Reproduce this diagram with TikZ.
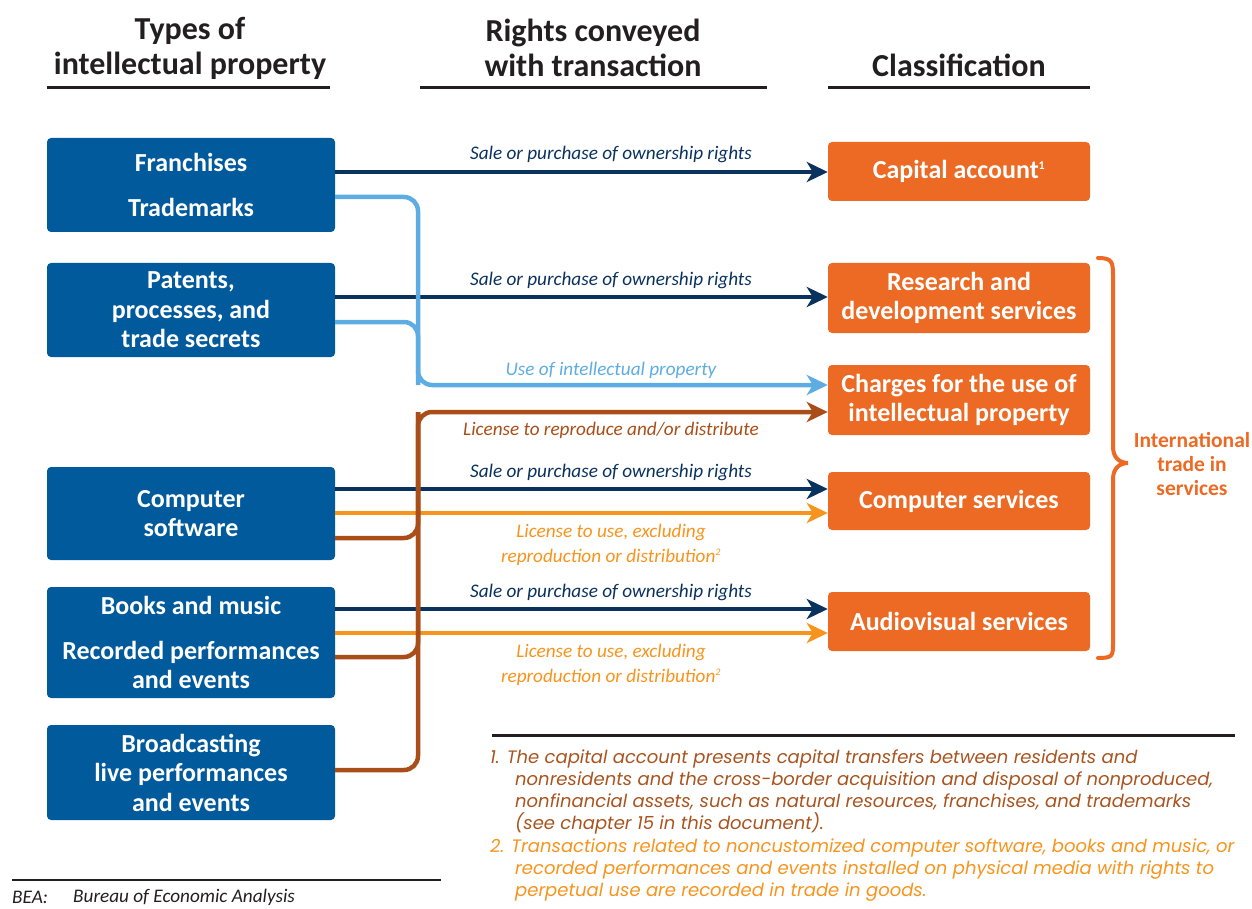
\documentclass[tikz,border=0pt]{standalone}
\usepackage{fontspec}
\setmainfont{Carlito}
\newfontfamily\fnfont{Poppins}
\usetikzlibrary{arrows.meta}
\definecolor{ipblue}{RGB}{0,90,156}
\definecolor{boxorange}{RGB}{236,106,35}
\definecolor{navyarrow}{RGB}{10,50,95}
\definecolor{lbluearrow}{RGB}{93,173,226}
\definecolor{brownarrow}{RGB}{169,78,24}
\definecolor{lorange}{RGB}{247,148,29}
\definecolor{hdrgray}{RGB}{35,31,32}
\definecolor{fnbrown}{RGB}{169,83,31}
\newcommand\myboxfont{\bfseries\fontsize{26}{29.5}\selectfont}
\newcommand\mylabfont{\itshape\fontsize{19.2}{25}\selectfont}
\newcommand\myhdrfont{\bfseries\fontsize{32}{35}\selectfont}
\newcommand\myfnfont{\fnfont\itshape\fontsize{18}{22}\selectfont}
\tikzset{
  bluebox/.style={fill=ipblue, rounded corners=4pt, text=white, font=\myboxfont, align=center, minimum width=288pt, inner sep=0pt},
  orangebox/.style={fill=boxorange, rounded corners=4pt, text=white, font=\myboxfont, align=center, minimum width=262pt, inner sep=0pt},
  hdr/.style={text=hdrgray, font=\myhdrfont, align=center, inner sep=0pt},
  hdrline/.style={draw=hdrgray, line width=3pt},
  conn/.style={line width=4.5pt},
  tipped/.style={-{Stealth[length=21pt,width=20pt,inset=6pt]}},
  lab/.style={font=\mylabfont, align=center, inner sep=0pt},
  fn/.style={font=\myfnfont, align=left, inner sep=0pt, anchor=north west}
}
\begin{document}
\begin{tikzpicture}[x=1pt,y=-1pt]
\useasboundingbox (0,0) rectangle (1252,909);

% headers
\node[hdr] (h1) at (190,48) {Types of\\intellectual property};
\node[hdr] (h2) at (593,48) {Rights conveyed\\with transaction};
\node[hdr] (h3) at (959,65) {Classification};
\draw[hdrline] (47,88) -- (330,88);
\draw[hdrline] (420,88) -- (767,88);
\draw[hdrline] (828,88) -- (1090,88);

% blue boxes
\node[bluebox, minimum height=94pt] (b1) at (191,185) {Franchises\\[15.5pt]Trademarks};
\node[bluebox, minimum height=94pt] (b2) at (191,310) {Patents,\\processes, and\\trade secrets};
\node[bluebox, minimum height=93pt] (b3) at (191,513.5) {Computer\\software};
\node[bluebox, minimum height=111pt] (b4) at (191,642.5) {Books and music\\[15pt]Recorded performances\\and events};
\node[bluebox, minimum height=95pt] (b5) at (191,772.5) {Broadcasting\\live performances\\and events};

% orange boxes
\node[orangebox, minimum height=59pt] (o1) at (959,171.5) {Capital account\textsuperscript{\fontsize{12}{12}\selectfont 1}};
\node[orangebox, minimum height=70pt] (o2) at (959,298) {Research and\\development services};
\node[orangebox, minimum height=70pt] (o3) at (959,400) {Charges for the use of\\intellectual property};
\node[orangebox, minimum height=58pt] (o4) at (959,501) {Computer services};
\node[orangebox, minimum height=59pt] (o5) at (959,621.5) {Audiovisual services};

% junction coordinates
\coordinate (jb) at (418,385);
\coordinate (jr) at (418,412);

% navy (sale or purchase)
\draw[conn, navyarrow, tipped] (b1.east |- 0,172) -- (o1.west |- 0,172);
\draw[conn, navyarrow, tipped] (b2.east |- 0,297) -- (o2.west |- 0,297);
\draw[conn, navyarrow, tipped] (b3.east |- 0,489) -- (o4.west |- 0,489);
\draw[conn, navyarrow, tipped] (b4.east |- 0,609) -- (o5.west |- 0,609);

% orange (license to use)
\draw[conn, lorange, tipped] (b3.east |- 0,513) -- (o4.west |- 0,513);
\draw[conn, lorange, tipped] (b4.east |- 0,633) -- (o5.west |- 0,633);

% light blue (use of IP)
\draw[conn, lbluearrow, rounded corners=14pt] (b2.east |- 0,322) -| (jb);
\draw[conn, lbluearrow, rounded corners=14pt, tipped] (b1.east |- 0,197) -| (jb) -- (o3.west |- jb);

% brown (license to reproduce)
\draw[conn, brownarrow, rounded corners=14pt] (b3.east |- 0,538) -| (jr);
\draw[conn, brownarrow, rounded corners=14pt] (b4.east |- 0,657) -| (jr);
\draw[conn, brownarrow, rounded corners=14pt, tipped] (b5.east |- 0,770) -| (jr) -- (o3.west |- jr);

% labels
\node[lab, text=navyarrow] (s1) at (611,154) {Sale or purchase of ownership rights};
\node[lab, text=navyarrow] (s2) at (611,280) {Sale or purchase of ownership rights};
\node[lab, text=lbluearrow] (u1) at (611,370) {Use of intellectual property};
\node[lab, text=brownarrow] (r1) at (611,430) {License to reproduce and/or distribute};
\node[lab, text=navyarrow] (s3) at (611,472) {Sale or purchase of ownership rights};
\node[lab, text=lorange] (l1) at (611,545) {License to use, excluding\\reproduction or distribution\textsuperscript{\fontsize{10}{10}\selectfont 2}};
\node[lab, text=navyarrow] (s4) at (611,592) {Sale or purchase of ownership rights};
\node[lab, text=lorange] (l2) at (611,665) {License to use, excluding\\reproduction or distribution\textsuperscript{\fontsize{10}{10}\selectfont 2}};

% brace
\draw[boxorange, line width=4pt, line cap=round] (1098,258) .. controls (1112,258) and (1113,262) .. (1113,275) -- (1113,447) .. controls (1113,458) and (1120,463) .. (1128,463) .. controls (1120,463) and (1113,468) .. (1113,479) -- (1113,645) .. controls (1113,656) and (1112,658) .. (1098,658);
\node[text=boxorange, font=\bfseries\fontsize{21.5}{24}\selectfont, align=center, inner sep=0pt] (its) at (1192,464) {International\\trade in\\services};

% footnotes
\draw[hdrline] (492,735) -- (1235,735);
\node[fn, text=fnbrown] (fn1) at (490,750) {1. The capital account presents capital transfers between residents and\\
\hspace*{25pt}nonresidents and the cross-border acquisition and disposal of nonproduced,\\
\hspace*{25pt}nonfinancial assets, such as natural resources, franchises, and trademarks\\
\hspace*{25pt}(see chapter 15 in this document).};
\node[fn, text=lorange] (fn2) at (490,839) {2. Transactions related to noncustomized computer software, books and music, or\\
\hspace*{25pt}recorded performances and events installed on physical media with rights to\\
\hspace*{25pt}perpetual use are recorded in trade in goods.};

% source
\draw[draw=hdrgray, line width=2pt] (12,880) -- (441,880);
\node[font=\mylabfont, text=hdrgray, anchor=west, inner sep=0pt] (bea) at (12,897) {BEA:};
\node[font=\mylabfont, text=hdrgray, anchor=west, inner sep=0pt] (bean) at (73,897) {Bureau of Economic Analysis};
\end{tikzpicture}
\end{document}
